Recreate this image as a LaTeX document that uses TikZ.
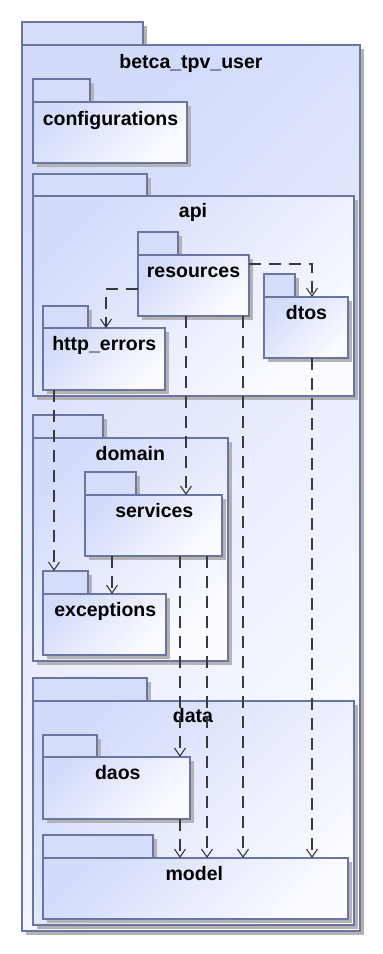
\documentclass[tikz,border=0pt]{standalone}
\usepackage{fontspec}
\setmainfont{Liberation Sans}
\usetikzlibrary{arrows.meta,shadows,calc}

\definecolor{pkgline}{HTML}{6A75A3}
\definecolor{pkgtabfill}{HTML}{D6DDFB}
\definecolor{pkgfillA}{HTML}{D3DBFB}
\definecolor{pkgfillB}{HTML}{FBFCFF}
\definecolor{shadowgray}{HTML}{B3B3B3}
\definecolor{depline}{HTML}{3A3A3A}

\tikzset{
  pkgshadow/.style={general shadow={fill=shadowgray, shadow xshift=4pt, shadow yshift=-4pt}},
  pkgbody/.style={draw=pkgline, line width=1.2pt, top color=pkgfillA, bottom color=pkgfillB,
    shading angle=45, pkgshadow, anchor=north west, inner sep=0pt, outer sep=0pt},
  pkgtab/.style={draw=pkgline, line width=1.2pt, fill=pkgtabfill, pkgshadow,
    anchor=north west, inner sep=0pt, outer sep=0pt},
  pkglabel/.style={font=\bfseries\fontsize{19.5}{22}\selectfont, inner sep=0pt, anchor=base},
  dep/.style={draw=depline, line width=1.1pt, dash pattern=on 12pt off 8pt,
    -{Straight Barb[length=8pt,width=11pt,line width=1.1pt]}},
}

\begin{document}
\begin{tikzpicture}[x=1pt,y=-1pt]
  \fill[white] (0,0) rectangle (383,954);
  \useasboundingbox (0,0) rectangle (383,954);

  % outer package
  \node[pkgtab, minimum width=121pt, minimum height=23pt] (root-tab) at (22,22) {};
  \node[pkgbody, minimum width=338pt, minimum height=886pt] (root) at (22,45) {};
  \node[pkglabel] (root-label) at (191,68) {betca\_tpv\_user};

  % configurations
  \node[pkgtab, minimum width=57pt, minimum height=23pt] (configurations-tab) at (33,79) {};
  \node[pkgbody, minimum width=154pt, minimum height=61pt] (configurations) at (33,102) {};
  \node[pkglabel] (configurations-label) at (110.5,125) {configurations};

  % api
  \node[pkgtab, minimum width=114pt, minimum height=22pt] (api-tab) at (33,174) {};
  \node[pkgbody, minimum width=321pt, minimum height=200pt] (api) at (33,196) {};
  \node[pkglabel] (api-label) at (193,217.5) {api};

  \node[pkgtab, minimum width=40pt, minimum height=23pt] (resources-tab) at (138,232) {};
  \node[pkgbody, minimum width=111pt, minimum height=61pt] (resources) at (138,255) {};
  \node[pkglabel] (resources-label) at (193.5,277.5) {resources};

  \node[pkgtab, minimum width=31pt, minimum height=23pt] (dtos-tab) at (264,274) {};
  \node[pkgbody, minimum width=84pt, minimum height=61pt] (dtos) at (264,297) {};
  \node[pkglabel] (dtos-label) at (306.5,319) {dtos};

  \node[pkgtab, minimum width=45pt, minimum height=22pt] (httperrors-tab) at (43,306) {};
  \node[pkgbody, minimum width=122pt, minimum height=62pt] (httperrors) at (43,328) {};
  \node[pkglabel] (httperrors-label) at (104.3,350.5) {http\_errors};

  % domain
  \node[pkgtab, minimum width=70pt, minimum height=23pt] (domain-tab) at (33,415) {};
  \node[pkgbody, minimum width=195pt, minimum height=223pt] (domain) at (33,438) {};
  \node[pkglabel] (domain-label) at (130.3,460.5) {domain};

  \node[pkgtab, minimum width=51pt, minimum height=23pt] (services-tab) at (85,472) {};
  \node[pkgbody, minimum width=137pt, minimum height=61pt] (services) at (85,495) {};
  \node[pkglabel] (services-label) at (154.3,517) {services};

  \node[pkgtab, minimum width=45pt, minimum height=23pt] (exceptions-tab) at (43,571) {};
  \node[pkgbody, minimum width=123pt, minimum height=61pt] (exceptions) at (43,594) {};
  \node[pkglabel] (exceptions-label) at (105.3,616.5) {exceptions};

  % data
  \node[pkgtab, minimum width=114pt, minimum height=23pt] (data-tab) at (33,678) {};
  \node[pkgbody, minimum width=321pt, minimum height=224pt] (data) at (33,701) {};
  \node[pkglabel] (data-label) at (193,722.5) {data};

  \node[pkgtab, minimum width=54pt, minimum height=22pt] (daos-tab) at (43,735) {};
  \node[pkgbody, minimum width=147pt, minimum height=62pt] (daos) at (43,757) {};
  \node[pkglabel] (daos-label) at (117.8,779) {daos};

  \node[pkgtab, minimum width=110pt, minimum height=23pt] (model-tab) at (43,835) {};
  \node[pkgbody, minimum width=305pt, minimum height=61pt] (model) at (43,858) {};
  \node[pkglabel] (model-label) at (194.3,880.5) {model};

  % dependencies
  \coordinate (rd) at ($(resources.north east)+(0,9)$);
  \draw[dep] (rd) -| ($(dtos.north west)+(48,0)$);
  \coordinate (rh) at ($(resources.north west)+(0,34)$);
  \draw[dep] (rh) -| ($(httperrors.north west)+(63,0)$);
  \coordinate (rs) at ($(resources.south west)+(48,0)$);
  \draw[dep] (rs) -- (rs |- services.north);
  \coordinate (rm) at ($(resources.south west)+(105,0)$);
  \draw[dep] (rm) -- (rm |- model.north);
  \coordinate (dm) at ($(dtos.south west)+(48,0)$);
  \draw[dep] (dm) -- (dm |- model.north);
  \coordinate (he) at ($(httperrors.south west)+(11,0)$);
  \draw[dep] (he) -- (he |- exceptions-tab.north);
  \coordinate (se) at ($(services.south west)+(27,0)$);
  \draw[dep] (se) -- (se |- exceptions.north);
  \coordinate (sd) at ($(services.south west)+(95,0)$);
  \draw[dep] (sd) -- (sd |- daos.north);
  \coordinate (sm) at ($(services.south west)+(122,0)$);
  \draw[dep] (sm) -- (sm |- model.north);
  \coordinate (dam) at ($(daos.south west)+(137,0)$);
  \draw[dep] (dam) -- (dam |- model.north);
\end{tikzpicture}
\end{document}
